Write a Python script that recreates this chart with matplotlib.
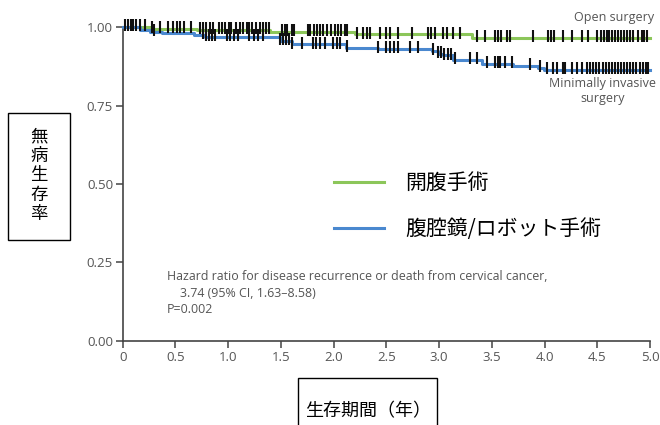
import numpy as np
import matplotlib
matplotlib.use("Agg")
import matplotlib.pyplot as plt
from matplotlib.lines import Line2D
from matplotlib.patches import Rectangle

plt.rcParams['font.family'] = ['Open Sans', 'DejaVu Sans']

# step curves (time in years, survival)
open_t = [0, 0.27, 0.7, 1.4, 2.2, 3.31, 5.0]
open_s = [1.0, 0.995, 0.99, 0.985, 0.977, 0.966, 0.966]
mis_t = [0, 0.16, 0.26, 0.37, 0.68, 0.78, 1.49, 1.6, 2.12, 2.42, 2.93, 2.99, 3.04,
         3.13, 3.41, 3.70, 3.94, 3.99, 5.0]
mis_s = [1.0, 0.99, 0.986, 0.982, 0.975, 0.968, 0.955, 0.945, 0.935, 0.93, 0.924,
         0.916, 0.91, 0.896, 0.884, 0.876, 0.87, 0.864, 0.864]

# censor marks
open_cens = [0.02, 0.05, 0.08, 0.10, 0.13, 0.16, 0.21, 0.28, 0.35, 0.43, 0.48, 0.51,
             0.54, 0.58, 0.65, 0.73, 0.76, 0.79, 0.83, 0.86, 0.91, 0.94, 0.97, 1.01,
             1.03, 1.07, 1.11, 1.14, 1.18, 1.2, 1.23, 1.26, 1.3, 1.33, 1.36, 1.39,
             1.51, 1.54, 1.56, 1.60, 1.62, 1.76, 1.78, 1.81, 1.84, 1.87, 1.90, 1.94,
             1.97, 2.01, 2.04, 2.07, 2.11, 2.13, 2.22, 2.28, 2.32, 2.34, 2.44, 2.5,
             2.53, 2.61, 2.74, 2.89, 2.92, 2.96, 3.04, 3.07, 3.13, 3.2, 3.36, 3.43,
             3.53, 3.56, 3.59, 3.64, 3.67, 3.89, 4.03, 4.06, 4.09, 4.17, 4.26, 4.35,
             4.41, 4.5, 4.53, 4.56, 4.59, 4.61, 4.64, 4.67, 4.7, 4.72, 4.75, 4.78,
             4.81, 4.84, 4.89, 4.92, 4.94, 4.97]
mis_cens = [0.3, 0.76, 0.79, 0.82, 0.85, 0.87, 0.99, 1.02, 1.05, 1.09, 1.2, 1.24,
            1.28, 1.33, 1.49, 1.52, 1.55, 1.58, 1.6, 1.7, 1.8, 1.83, 1.87, 1.92,
            1.99, 2.03, 2.06, 2.13, 2.42, 2.5, 2.53, 2.57, 2.61, 2.72, 2.8, 2.94,
            2.99, 3.02, 3.05, 3.08, 3.11, 3.15, 3.29, 3.36, 3.45, 3.53, 3.56, 3.58,
            3.62, 3.69, 3.86, 3.96, 4.02, 4.08, 4.12, 4.17, 4.19, 4.26, 4.31, 4.35,
            4.4, 4.43, 4.46, 4.49, 4.52, 4.55, 4.58, 4.61, 4.64, 4.67, 4.7, 4.72,
            4.75, 4.78, 4.81, 4.84, 4.87, 4.9, 4.93, 4.96, 4.98]

xticks = [0, 0.5, 1.0, 1.5, 2.0, 2.5, 3.0, 3.5, 4.0, 4.5, 5.0]
xticklabels = ["0", "0.5", "1.0", "1.5", "2.0", "2.5", "3.0", "3.5", "4.0", "4.5", "5.0"]
yticks = [0, 0.25, 0.5, 0.75, 1.0]
yticklabels = ["0.00", "0.25", "0.50", "0.75", "1.00"]

green = "#8cc65a"
blue = "#4a88cf"
gray = "#555555"

fig = plt.figure(figsize=(6.6, 4.25), dpi=100)
ax = fig.add_axes([0.186, 0.198, 0.799, 0.738])

ax.step(open_t, open_s, where='post', color=green, lw=2.2, clip_on=False, zorder=3)
ax.step(mis_t, mis_s, where='post', color=blue, lw=2.2, clip_on=False, zorder=3)


def surv_at(ts, ss, t):
    i = np.searchsorted(ts, t, side='right') - 1
    return ss[i]


ax.plot(open_cens, [surv_at(open_t, open_s, t) + 0.006 for t in open_cens], ls='none',
        marker='|', ms=8, mew=1.5, color='#111111', clip_on=False, zorder=4)
ax.plot(mis_cens, [surv_at(mis_t, mis_s, t) + 0.006 for t in mis_cens], ls='none',
        marker='|', ms=8, mew=1.5, color='#111111', clip_on=False, zorder=4)

ax.set_xlim(0, 5.0)
ax.set_ylim(0, 1.0)
ax.set_xticks(xticks)
ax.set_xticklabels(xticklabels)
ax.set_yticks(yticks)
ax.set_yticklabels(yticklabels)
for s in ['top', 'right']:
    ax.spines[s].set_visible(False)
for s in ['left', 'bottom']:
    ax.spines[s].set_color('#444444')
    ax.spines[s].set_linewidth(1.2)
ax.tick_params(direction='out', length=5, width=1.1, color='#444444',
               labelcolor=gray, labelsize=9.5, pad=2)

ax.text(4.66, 1.03, "Open surgery", color=gray, fontsize=9, ha='center',
        va='center', clip_on=False)
ax.text(4.55, 0.84, "Minimally invasive\nsurgery", color=gray, fontsize=9,
        ha='center', va='top', linespacing=1.2, clip_on=False)
ax.text(0.42, 0.225, "Hazard ratio for disease recurrence or death from cervical cancer,\n"
        "    3.74 (95% CI, 1.63\u20138.58)\nP=0.002", color=gray, fontsize=8.9,
        ha='left', va='top', linespacing=1.33)

handles = [Line2D([], [], color=green, lw=2.2), Line2D([], [], color=blue, lw=2.2)]
ax.legend(handles, ["開腹手術", "腹腔鏡/ロボット手術"], loc='upper left',
          bbox_to_anchor=(0.365, 0.597), frameon=False, handlelength=2.4,
          handletextpad=1.0, labelspacing=1.15,
          prop={'family': ['Noto Sans CJK JP', 'DejaVu Sans'], 'size': 15})

# boxed axis labels
fig.patches.append(Rectangle((0.012, 0.435), 0.094, 0.299, transform=fig.transFigure,
                             fill=False, edgecolor='black', lw=1.0))
fig.text(0.059, 0.588, "無\n病\n生\n存\n率", ha='center', va='center', fontsize=12.5,
         linespacing=1.1, family=['Noto Sans CJK JP', 'DejaVu Sans'])
fig.patches.append(Rectangle((0.4515, -0.05), 0.2105, 0.1606, transform=fig.transFigure,
                             fill=False, edgecolor='black', lw=1.0))
fig.text(0.557, 0.033, "生存期間（年）", ha='center', va='center', fontsize=13,
         family=['Noto Sans CJK JP', 'DejaVu Sans'])

fig.savefig("out.png", dpi=100)
